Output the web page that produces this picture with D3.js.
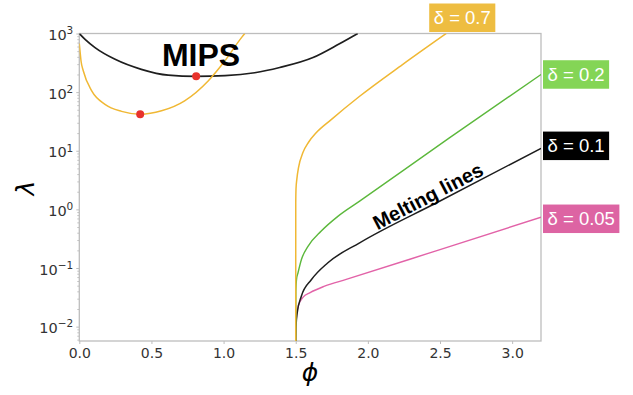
<!DOCTYPE html>
<html><head><meta charset="utf-8">
<script src="https://cdn.jsdelivr.net/npm/d3@7"></script>
<style>
html,body{margin:0;padding:0;background:#fff;}
svg{display:block;}
</style></head>
<body>
<svg id="chart" width="633" height="395"></svg>
<script>
// ---- data ----
const xTicks = [0, 0.5, 1.0, 1.5, 2.0, 2.5, 3.0];
const yTickExps = [-2, -1, 0, 1, 2, 3];

// MIPS boundaries
const mipsBlackPhi = [0, 0.04, 0.109, 0.248, 0.43, 0.616, 0.81, 1.01, 1.216, 1.389, 1.62, 1.80, 1.93];
const mipsBlackLam = [1000, 795, 575, 363, 245, 195, 186, 191, 214, 263, 389, 661, 1000];
const mipsOrangePhi = [0, 0.005, 0.012, 0.028, 0.086, 0.178, 0.293, 0.422, 0.57, 0.73, 0.893, 1.008, 1.124, 1.147];
const mipsOrangeLam = [676, 500, 340, 229, 105, 62, 47, 42, 48, 71, 155, 339, 851, 1000];
const mipsMinPhi = [0.422, 0.81];
const mipsMinLam = [42, 186];

// Melting lines (phi, lambda)
const melt07Phi = [1.5, 1.5002, 1.502, 1.508, 1.52, 1.55, 1.59, 1.64, 1.74, 1.943, 2.24, 2.543];
const melt07Lam = [0.005, 1.26, 2.24, 3.31, 5.25, 9.3, 14.1, 20, 33, 85, 295, 1000];
const melt02Phi = [1.5, 1.501, 1.506, 1.516, 1.539, 1.585, 1.677, 1.792, 1.943, 2.565, 3.2];
const melt02Lam = [0.005, 0.04, 0.065, 0.083, 0.138, 0.234, 0.427, 0.76, 1.38, 16.6, 200];
const melt01Phi = [1.5, 1.502, 1.51, 1.539, 1.608, 1.723, 1.943, 2.5, 3.2];
const melt01Lam = [0.005, 0.01, 0.017, 0.033, 0.063, 0.123, 0.269, 1.39, 11.0];
const melt005Phi = [1.5, 1.501, 1.506, 1.52, 1.55, 1.6, 1.7, 1.85, 2.5, 3.2];
const melt005Lam = [0.005, 0.01, 0.0158, 0.0234, 0.0316, 0.038, 0.049, 0.0638, 0.2065, 0.733];

const legendLabels = ["δ = 0.7", "δ = 0.2", "δ = 0.1", "δ = 0.05"];

// ---- layout ----
const svg = d3.select("#chart");
const L = 79.3, R = 541, T = 33.5, B = 341;
const x = d3.scaleLinear().domain([0, 3.2]).range([L, R]);
const y = d3.scaleLog().domain([Math.pow(10, -2.245), 1000]).range([B, T]);

const zip = (a, b) => a.map((v, i) => [v, b[i]]);

svg.append("defs").append("clipPath").attr("id", "clip")
  .append("rect").attr("x", L).attr("y", T).attr("width", R - L).attr("height", B - T);

// axes
const frameColor = "#bdbdbd";
const xAxis = d3.axisBottom(x).tickValues(xTicks).tickFormat(d3.format(".1f")).tickSize(3).tickPadding(4);
const gx = svg.append("g").attr("transform", `translate(0,${B})`).call(xAxis);
gx.select(".domain").remove();
gx.selectAll(".tick line").attr("stroke", frameColor);
gx.selectAll(".tick text").attr("font-family", "DejaVu Sans").attr("font-size", 14).attr("fill", "#333");

// minor y ticks
const minor = [];
for (let e = -3; e < 3; e++) for (let k = 2; k <= 9; k++) {
  const v = k * Math.pow(10, e);
  if (v >= y.domain()[0] && v <= 1000) minor.push(v);
}
const gym = svg.append("g").attr("transform", `translate(${L},0)`)
  .call(d3.axisLeft(y).tickValues(minor).tickFormat(() => "").tickSize(2));
gym.select(".domain").remove();
gym.selectAll(".tick line").attr("stroke", "#999").attr("stroke-width", 0.6);

const yAxis = d3.axisLeft(y).tickValues(yTickExps.map(e => Math.pow(10, e))).tickFormat(() => "").tickSize(3).tickPadding(3);
const gy = svg.append("g").attr("transform", `translate(${L},0)`).call(yAxis);
gy.select(".domain").remove();
gy.selectAll(".tick line").attr("stroke", frameColor);
gy.selectAll(".tick text").each(function(d) {
  const t = d3.select(this);
  const e = Math.round(Math.log10(d));
  t.attr("font-family", "DejaVu Sans").attr("font-size", 14.5).attr("fill", "#333").attr("dy", "0.42em");
  t.append("tspan").text("10");
  t.append("tspan").attr("dy", "-0.55em").attr("font-size", 10.5).text(e < 0 ? "\u2212" + (-e) : String(e));
});

// frame
svg.append("rect").attr("x", L).attr("y", T).attr("width", R - L).attr("height", B - T)
  .attr("fill", "none").attr("stroke", frameColor).attr("stroke-width", 1.3);

// curves
const line = d3.line().x(d => x(d[0])).y(d => y(d[1])).curve(d3.curveMonotoneX);
const plot = svg.append("g").attr("clip-path", "url(#clip)");

const colors = { orange: "#f0b834", green: "#5cb83c", black: "#1e1e1e", pink: "#e263a8" };

plot.append("path").datum(zip(mipsBlackPhi, mipsBlackLam)).attr("d", line)
  .attr("fill", "none").attr("stroke", colors.black).attr("stroke-width", 1.7);
plot.append("path").datum(zip(mipsOrangePhi, mipsOrangeLam)).attr("d", line)
  .attr("fill", "none").attr("stroke", colors.orange).attr("stroke-width", 1.5);

const melts = [
  { p: melt005Phi, l: melt005Lam, c: colors.pink, w: 1.4 },
  { p: melt01Phi, l: melt01Lam, c: colors.black, w: 1.5 },
  { p: melt02Phi, l: melt02Lam, c: colors.green, w: 1.4 },
  { p: melt07Phi, l: melt07Lam, c: colors.orange, w: 1.5 },
];
melts.forEach(m => {
  plot.append("path").datum(zip(m.p, m.l)).attr("d", line)
    .attr("fill", "none").attr("stroke", m.c).attr("stroke-width", m.w);
});

// red dots
svg.selectAll("circle.min").data(zip(mipsMinPhi, mipsMinLam)).enter().append("circle")
  .attr("cx", d => x(d[0])).attr("cy", d => y(d[1])).attr("r", 4).attr("fill", "#e8322b");

// texts
svg.append("text").attr("x", 201).attr("y", 65.5).attr("text-anchor", "middle")
  .attr("font-family", "Liberation Sans, Arial, sans-serif").attr("font-weight", "bold")
  .attr("font-size", 32).attr("fill", "#000").text("MIPS");

svg.append("text").attr("transform", "translate(428,196) rotate(-27.5)").attr("text-anchor", "middle")
  .attr("dy", "0.35em")
  .attr("font-family", "Liberation Sans, Arial, sans-serif").attr("font-weight", "bold")
  .attr("font-size", 20).attr("fill", "#000").text("Melting lines");

// axis titles
svg.append("text").attr("transform", "translate(34,188) rotate(-90)").attr("text-anchor", "middle")
  .attr("font-family", "DejaVu Sans").attr("font-style", "italic").attr("font-size", 25).attr("fill", "#000").text("λ");
svg.append("text").attr("x", 310).attr("y", 381).attr("text-anchor", "middle")
  .attr("font-family", "DejaVu Sans").attr("font-style", "italic").attr("font-size", 25).attr("fill", "#000").text("ϕ");

// legend boxes
const boxColors = ["#eebd41", "#84d556", "#000000", "#dd64a3"];
const ends = [
  [melt07Phi[melt07Phi.length - 1], melt07Lam[melt07Lam.length - 1]],
  [melt02Phi[melt02Phi.length - 1], melt02Lam[melt02Lam.length - 1]],
  [melt01Phi[melt01Phi.length - 1], melt01Lam[melt01Lam.length - 1]],
  [melt005Phi[melt005Phi.length - 1], melt005Lam[melt005Lam.length - 1]],
];
legendLabels.forEach((lab, i) => {
  const g = svg.append("g");
  const t = g.append("text").attr("font-family", "Liberation Sans, Arial, sans-serif")
    .attr("font-size", 18.5).attr("fill", "#fff").text(lab);
  const w = t.node().getComputedTextLength();
  const padX = 4.5, h = 28.5;
  let bx, by;
  if (i === 0) {
    const ex = x(ends[0][0]);
    bx = ex - 17; by = T - 4.5 - h + 3;
  } else {
    bx = R + 2; by = y(ends[i][1]) - h / 2 + (i === 2 ? -2.5 : (i === 3 ? 1.5 : 0));
  }
  g.insert("rect", "text").attr("x", bx).attr("y", by).attr("width", w + 2 * padX).attr("height", h)
    .attr("fill", boxColors[i]);
  t.attr("x", bx + padX).attr("y", by + h / 2).attr("dy", "0.36em");
});
</script>
</body></html>
